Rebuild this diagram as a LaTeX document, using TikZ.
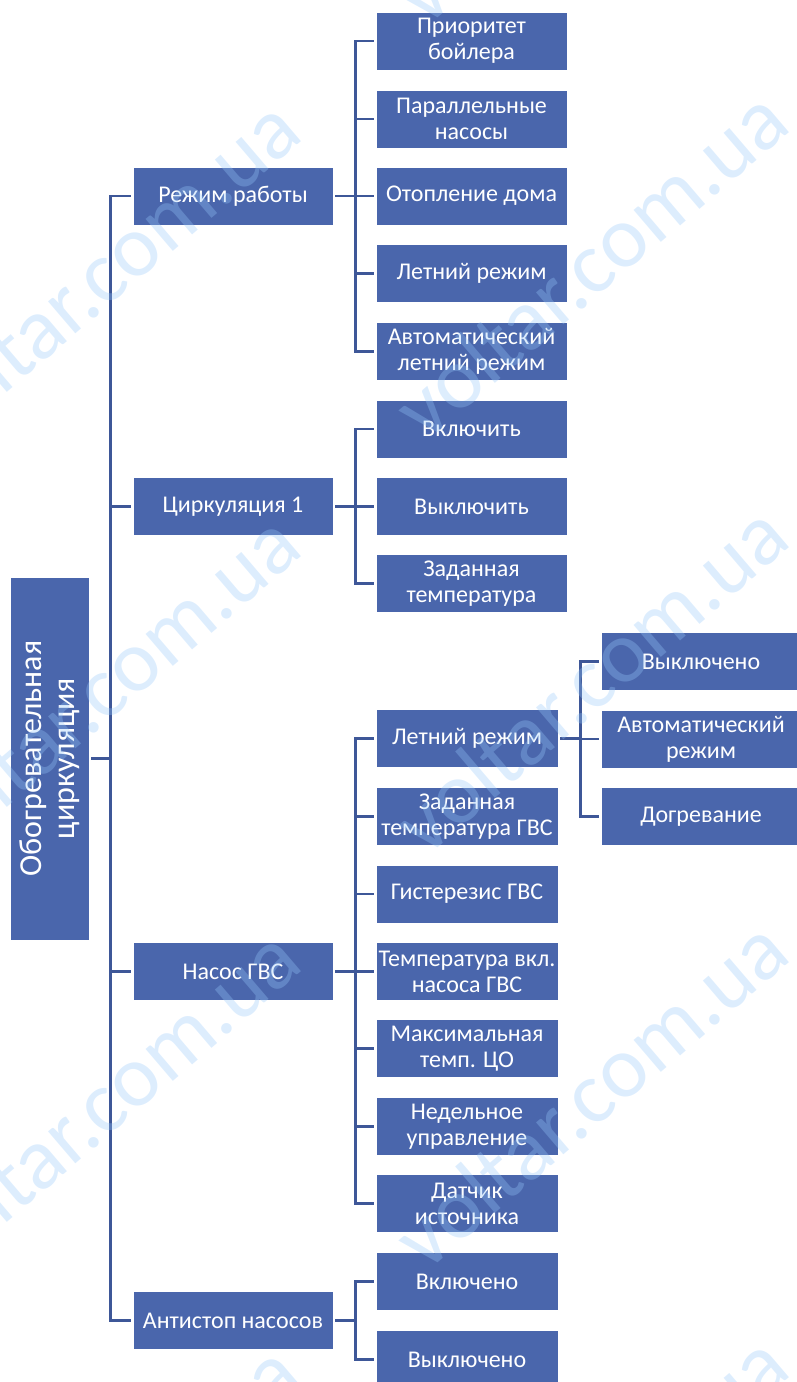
\documentclass[tikz,border=0pt]{standalone}
\usepackage{fontspec}
\setmainfont{Carlito}
\usepackage{tikz}

\definecolor{boxblue}{RGB}{74,102,172}
\definecolor{lineblue}{RGB}{62,87,152}
\definecolor{wmblue}{RGB}{150,200,250}

\tikzset{
  box/.style={draw=white, line width=0.6pt, fill=boxblue, text=white, align=center,
    inner xsep=0pt, inner ysep=0pt, minimum height=58pt, font=\fontsize{24}{26}\selectfont},
  topbox/.style={box, minimum width=200pt},
  widebox/.style={box, minimum width=191pt},
  narrowbox/.style={box, minimum width=182pt},
  leafbox/.style={box, minimum width=200pt},
  link/.style={lineblue, line width=2.6pt},
  wmark/.style={text=wmblue, text opacity=0.32, inner sep=0pt, rotate=40.5,
    font=\fontsize{88}{88}\selectfont},
}

\begin{document}
\begin{tikzpicture}[x=1pt,y=1pt,yscale=-1,xscale=1]
        \useasboundingbox (0,0) rectangle (797,1382);
        \clip (0,0) rectangle (797,1382);

        % Root
        \node [box, rotate=90, minimum width=363pt, minimum height=79pt, font=\fontsize{32}{33}\selectfont] (root) at (49.5,758.5) {Обогревательная\\циркуляция};

        % Level one
        \node [topbox] (rezhim) at (233,196) {Режим работы};
        \node [topbox] (cirk) at (233,506.5) {Циркуляция 1};
        \node [topbox] (nasos) at (233,971.5) {Насос ГВС};
        \node [topbox] (antistop) at (233,1320.5) {Антистоп насосов};

        % Режим работы
        \node [widebox] (prio) at (471.5,41) {Приоритет\\бойлера};
        \node [widebox] (parall) at (471.5,119) {Параллельные\\насосы};
        \node [widebox] (otopl) at (471.5,196) {Отопление дома};
        \node [widebox] (leto) at (471.5,273.5) {Летний режим};
        \node [widebox] (autoleto) at (471.5,351.5) {Автоматический\\летний режим};

        % Циркуляция 1
        \node [widebox] (vkl) at (471.5,429) {Включить};
        \node [widebox] (vykl) at (471.5,506.5) {Выключить};
        \node [widebox] (zadt) at (471.5,583.5) {Заданная\\температура};

        % Насос ГВС
        \node [narrowbox] (gvsleto) at (467,738.5) {Летний режим};
        \node [narrowbox] (gvszad) at (467,816.5) {Заданная\\температура ГВС};
        \node [narrowbox] (gvsgist) at (467,894) {Гистерезис ГВС};
        \node [narrowbox] (gvsvkl) at (467,971.5) {Температура вкл.\\насоса ГВС};
        \node [narrowbox] (gvsmax) at (467,1048.5) {Максимальная\\темп. ЦО};
        \node [narrowbox] (gvsned) at (467,1126.5) {Недельное\\управление};
        \node [narrowbox] (gvsdat) at (467,1203.5) {Датчик\\источника};

        % Летний режим (ГВС)
        \node [leafbox] (letoff) at (701,661.5) {Выключено};
        \node [leafbox] (letauto) at (701,739) {Автоматический\\режим};
        \node [leafbox] (letdogr) at (701,816.5) {Догревание};

        % Антистоп насосов
        \node [narrowbox] (asvkl) at (467,1281.5) {Включено};
        \node [narrowbox] (asvykl) at (467,1359.5) {Выключено};

        % Connectors
        \foreach \ch in {rezhim,cirk,nasos,antistop}
          \draw [link] ([xshift=2pt]root.south) -- ++(19,0) |- ([xshift=-2pt]\ch.west);
        \foreach \ch in {prio,parall,otopl,leto,autoleto}
          \draw [link] ([xshift=2pt]rezhim.east) -- ++(20,0) |- ([xshift=-2pt]\ch.west);
        \foreach \ch in {vkl,vykl,zadt}
          \draw [link] ([xshift=2pt]cirk.east) -- ++(20,0) |- ([xshift=-2pt]\ch.west);
        \foreach \ch in {gvsleto,gvszad,gvsgist,gvsvkl,gvsmax,gvsned,gvsdat}
          \draw [link] ([xshift=2pt]nasos.east) -- ++(20,0) |- ([xshift=-2pt]\ch.west);
        \foreach \ch in {letoff,letauto,letdogr}
          \draw [link] ([xshift=2pt]gvsleto.east) -- ++(20,0) |- ([xshift=-2pt]\ch.west);
        \foreach \ch in {asvkl,asvykl}
          \draw [link] ([xshift=2pt]antistop.east) -- ++(20,0) |- ([xshift=-2pt]\ch.west);

        % Watermark
        \foreach \k in {-1,0,1,2,3} {
          \node [wmark] (wml\k) at (102,272+415*\k) {voltar.com.ua};
          \node [wmark] (wmr\k) at (590,263+415*\k) {voltar.com.ua};
        }

\end{tikzpicture}
\end{document}
